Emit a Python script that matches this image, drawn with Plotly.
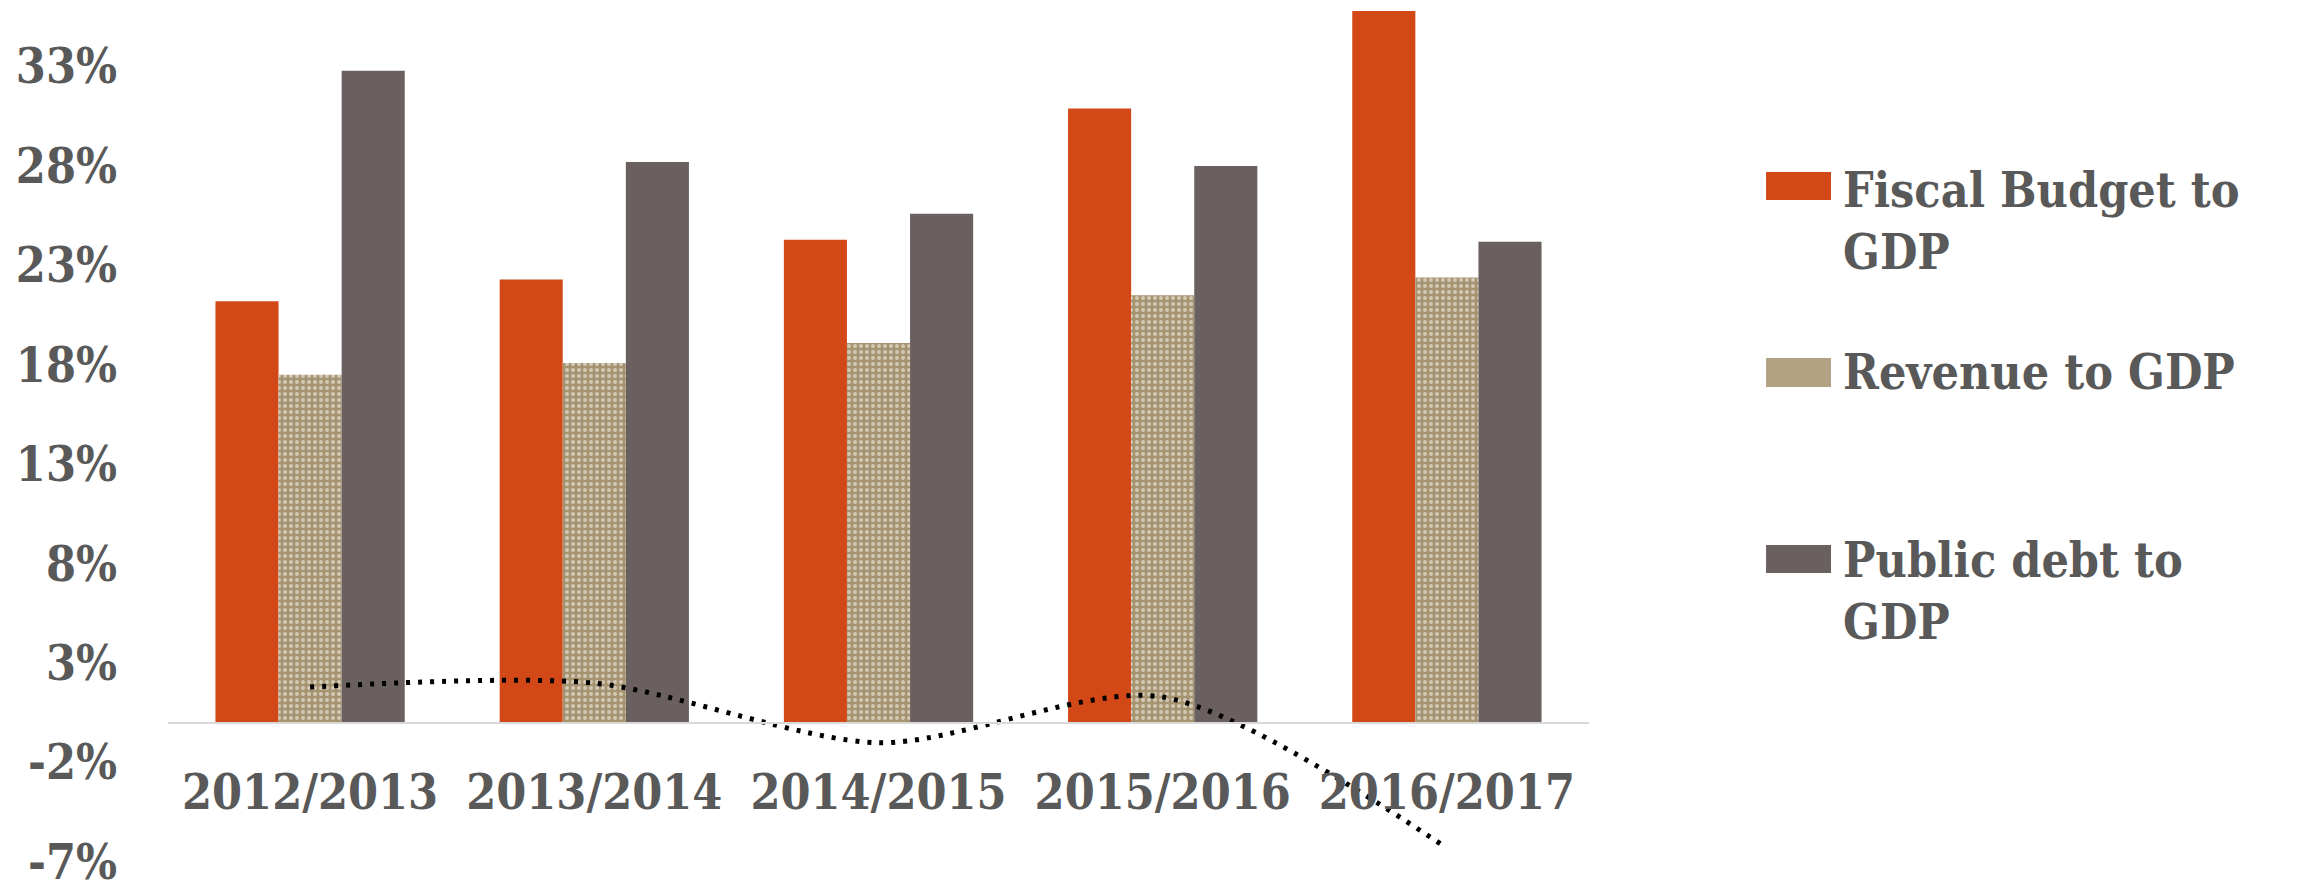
import plotly.graph_objects as go

categories = ["2012/2013", "2013/2014", "2014/2015", "2015/2016", "2016/2017"]
fiscal_budget = [21.2, 22.3, 24.3, 30.9, 35.8]
revenue = [17.5, 18.1, 19.1, 21.5, 22.4]
public_debt = [32.8, 28.2, 25.6, 28.0, 24.2]
dotted_series = [1.8, 2.0, -1.0, 1.3, -6.3]
tick_vals = [-7, -2, 3, 8, 13, 18, 23, 28, 33]
tick_text = ["-7%", "-2%", "3%", "8%", "13%", "18%", "23%", "28%", "33%"]
series_names = ["Fiscal Budget to<br>GDP", "Revenue to GDP", "Public debt to<br>GDP"]
series_colors = ["#d24817", "#a69370", "#6b6060"]
swatch_colors = ["#d24817", "#b2a283", "#6b6060"]

FONT = "DejaVu Serif Condensed, DejaVu Serif, serif"
TXT = "#595959"

fig = go.Figure()
fig.add_trace(go.Bar(x=categories, y=fiscal_budget, name=series_names[0].replace("<br>", " "),
                     marker=dict(color=series_colors[0], line=dict(width=0))))
fig.add_trace(go.Bar(x=categories, y=revenue, name=series_names[1],
                     marker=dict(color=series_colors[1], line=dict(width=0),
                                 pattern=dict(shape=".", fgcolor="#ffffff", size=6, solidity=0.35,
                                              fillmode="overlay"))))
fig.add_trace(go.Bar(x=categories, y=public_debt, name=series_names[2].replace("<br>", " "),
                     marker=dict(color=series_colors[2], line=dict(width=0))))
fig.add_trace(go.Scatter(x=categories, y=dotted_series, mode="lines",
                         line=dict(color="#000000", width=5, dash="4px,8px", shape="spline", smoothing=0.8)))

# manual legend (large swatches like the reference)
legend_swatch_y = [(0.7769, 0.8092), (0.5607, 0.5942), (0.3457, 0.3780)]
legend_text_y = [0.7526, 0.5775, 0.3249]
for name, col, (y0, y1), ty in zip(series_names, swatch_colors, legend_swatch_y, legend_text_y):
    fig.add_shape(type="rect", xref="paper", yref="paper", x0=1.1246, x1=1.1703, y0=y0, y1=y1,
                  fillcolor=col, line=dict(width=0))
    fig.add_annotation(xref="paper", yref="paper", x=1.177, y=ty, xanchor="left", yanchor="middle",
                       align="left", showarrow=False, text="<b>" + name + "</b>",
                       font=dict(family=FONT, size=48, color=TXT))

y_min, y_max = -7.5, 36
fig.update_layout(
    width=2297, height=885,
    margin=dict(l=168, r=708, t=7, b=13, autoexpand=False),
    paper_bgcolor="white", plot_bgcolor="white",
    barmode="group", bargap=0.334, bargroupgap=0,
    showlegend=False,
    font=dict(family=FONT, color=TXT, size=48),
    xaxis=dict(anchor="free", position=(0 - y_min) / (y_max - y_min), automargin=False,
               showline=True, linecolor="#d9d9d9", linewidth=2, showgrid=False,
               ticks="", tickfont=dict(family=FONT, size=48, color=TXT),
               ticklabelstandoff=28, tickprefix="<b>", ticksuffix="</b>"),
    yaxis=dict(range=[y_min, y_max], tickvals=tick_vals, ticktext=["<b>" + t + "</b>" for t in tick_text],
               showgrid=False, zeroline=False, showline=False, ticks="", automargin=False,
               ticklabeloverflow="allow",
               tickfont=dict(family=FONT, size=48, color=TXT), ticklabelstandoff=50),
)
fig.write_html("out.html")
